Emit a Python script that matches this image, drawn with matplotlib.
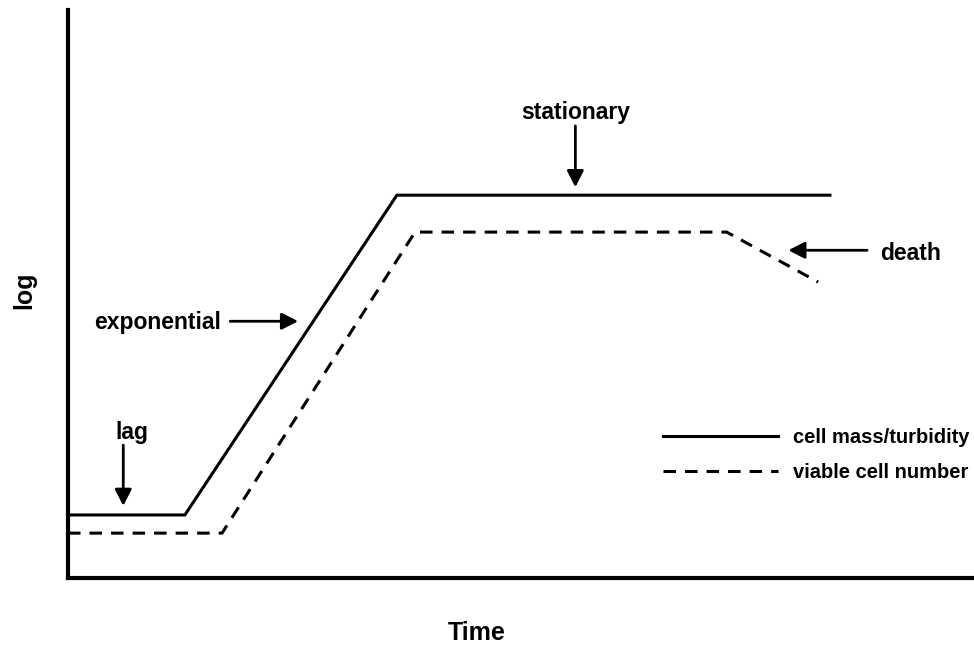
import matplotlib
matplotlib.use("Agg")
import matplotlib.pyplot as plt

plt.rcParams['font.family'] = ['Liberation Sans', 'DejaVu Sans']
plt.rcParams['font.weight'] = 'bold'
plt.rcParams['lines.scale_dashes'] = False

# krzywe wzrostu (czas 0-100, log 0-100)
mass_time = [0, 12.9, 36.3, 84.1]
mass_log = [11.1, 11.1, 67.4, 67.4]

viable_time = [0, 17.0, 38.3, 72.7, 82.8]
viable_log = [7.9, 7.9, 60.9, 60.9, 52.1]

series_labels = ['cell mass/turbidity', 'viable cell number']

# opisy faz: (tekst, pozycja tekstu, ogon strzałki, grot strzałki)
phase_labels = ['lag', 'exponential', 'stationary', 'death']
phase_text_xy = [(7.0, 25.7), (9.9, 44.9), (56.0, 82.0), (93.0, 57.2)]
phase_arrow_from = [(6.1, 23.4), (17.9, 45.2), (56.0, 79.6), (88.2, 57.7)]
phase_arrow_to = [(6.1, 12.7), (25.4, 45.2), (56.0, 68.8), (79.5, 57.7)]

fig = plt.figure(figsize=(9.74, 6.48), dpi=100)
ax = fig.add_axes([68 / 974, 1 - 578 / 648, 906 / 974, 568 / 648])

ax.plot(mass_time, mass_log, color='black', lw=2.2, solid_joinstyle='miter',
        label=series_labels[0])
ax.plot(viable_time, viable_log, color='black', lw=2.2, dashes=(9, 6.5),
        label=series_labels[1])

for name, txy, a0, a1 in zip(phase_labels, phase_text_xy, phase_arrow_from, phase_arrow_to):
    ax.text(txy[0], txy[1], name, ha='center', va='center', fontsize=16.5,
            fontweight='bold')
    ax.annotate('', xy=a1, xytext=a0,
                arrowprops=dict(arrowstyle='-|>,head_length=0.55,head_width=0.28',
                                color='black', lw=2, mutation_scale=18,
                                shrinkA=0, shrinkB=0))

ax.set_xlim(0, 100)
ax.set_ylim(0, 100)
ax.set_xticks([])
ax.set_yticks([])
for side in ['top', 'right']:
    ax.spines[side].set_visible(False)
for side in ['left', 'bottom']:
    ax.spines[side].set_linewidth(3)

ax.set_xlabel('Time', fontsize=18, fontweight='bold')
ax.set_ylabel('log', fontsize=18, fontweight='bold')
ax.xaxis.label.set_va('center')
ax.yaxis.label.set_va('center')
ax.xaxis.set_label_coords((477 - 68) / 906, (578 - 633) / 568)
ax.yaxis.set_label_coords((24 - 68) / 906, (578 - 290) / 568)

leg = ax.legend(loc='center left', bbox_to_anchor=(0.657, 0.2165), frameon=False,
                fontsize=14.5, handlelength=5.7, handletextpad=0.74,
                labelspacing=0.75, borderpad=0, borderaxespad=0)
for t in leg.get_texts():
    t.set_fontweight('bold')

fig.savefig('out.png', dpi=100)
